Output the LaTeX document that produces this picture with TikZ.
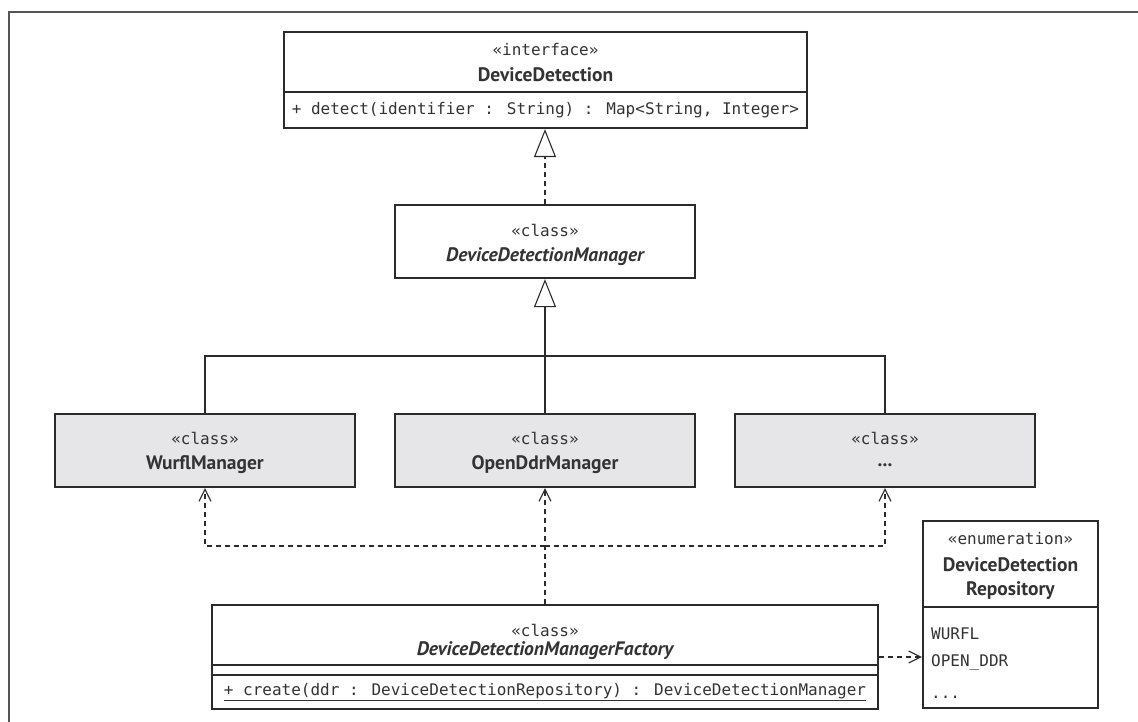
\documentclass[tikz,border=0pt]{standalone}
\usepackage{fontspec}
\setmainfont{PT Sans}
\newfontfamily\monof{DejaVu Sans Mono}
\usetikzlibrary{arrows.meta}
\definecolor{ink}{HTML}{2B2B2B}
\definecolor{txt}{HTML}{333333}
\definecolor{shade}{HTML}{E6E6E8}
\definecolor{framec}{HTML}{555555}
\begin{document}
\begin{tikzpicture}[x=1pt,y=-1pt,
  box/.style={draw=ink, line width=2.2pt, inner sep=0pt, fill=white},
  shaded/.style={box, fill=shade},
  divider/.style={draw=ink, line width=1.8pt},
  stereo/.style={inner sep=0pt, text=txt, font=\monof\fontsize{16}{18}\selectfont},
  cname/.style={inner sep=0pt, text=txt, font=\bfseries\fontsize{19.5}{22}\selectfont},
  iname/.style={inner sep=0pt, text=txt, font=\bfseries\itshape\fontsize{19.5}{22}\selectfont},
  conn/.style={draw=ink, line width=1.1pt},
  realize/.style={conn, dash pattern=on 5pt off 4pt, -{Triangle[open,length=28pt,width=22pt,line width=1.1pt]}},
  general/.style={conn, -{Triangle[open,length=28pt,width=22pt,line width=1.1pt]}},
  dep/.style={conn, dash pattern=on 5pt off 4pt, -{Straight Barb[length=12pt,width=12pt,line width=1.1pt]}}
]
\useasboundingbox (0,0) rectangle (1138,722);
% frame
\draw[framec, line width=2pt] (8.5,722) -- (8.5,12) -- (1138,12);

% DeviceDetection
\node[box, minimum width=523pt, minimum height=96pt] (dd) at (545.5,80) {};
\draw[divider] (dd.west |- 0,92) -- (dd.east |- 0,92);
\node[stereo] (ddst) at (545.5,50) {«interface»};
\node[cname] (ddnm) at (545.5,75) {DeviceDetection};
\node[stereo] (ddop) at (545.5,110) {+ detect(identifier : String) : Map<String, Integer>};

% DeviceDetectionManager
\node[box, minimum width=300pt, minimum height=73pt] (ddm) at (545,241.5) {};
\node[stereo] (ddmst) at (545,230) {«class»};
\node[iname] (ddmnm) at (545,257) {DeviceDetectionManager};

% subclasses
\node[shaded, minimum width=300pt, minimum height=73pt] (wm) at (205,450.5) {};
\node[stereo] (wmst) at (205,438) {«class»};
\node[cname] (wmnm) at (205,465) {WurflManager};

\node[shaded, minimum width=300pt, minimum height=73pt] (om) at (545,450.5) {};
\node[stereo] (omst) at (545,438) {«class»};
\node[cname] (omnm) at (545,465) {OpenDdrManager};

\node[shaded, minimum width=300pt, minimum height=73pt] (xm) at (885,450.5) {};
\node[stereo] (xmst) at (885,438) {«class»};
\node[cname] (xmnm) at (885,465) {...};

% factory
\node[box, minimum width=666pt, minimum height=104pt] (fac) at (545,657) {};
\draw[divider] (fac.west |- 0,665) -- (fac.east |- 0,665);
\draw[divider] (fac.west |- 0,675) -- (fac.east |- 0,675);
\node[stereo] (facst) at (545,630) {«class»};
\node[iname] (facnm) at (545,651) {DeviceDetectionManagerFactory};
\node[stereo] (facop) at (545,692) {\underline{+ create(ddr : DeviceDetectionRepository) : DeviceDetectionManager}};

% enumeration
\node[box, minimum width=175pt, minimum height=187pt] (en) at (1010.5,614.5) {};
\draw[divider] (en.west |- 0,607) -- (en.east |- 0,607);
\node[stereo] (enst) at (1010.5,539) {«enumeration»};
\node[cname] (ennm1) at (1010.5,565) {DeviceDetection};
\node[cname] (ennm2) at (1010.5,591) {Repository};
\node[stereo, anchor=base west] (en1) at (931,639) {WURFL};
\node[stereo, anchor=base west] (en2) at (931,666) {OPEN\_DDR};
\node[stereo, anchor=base west] (en3) at (931,698) {...};

% connectors
\draw[realize] (ddm.north) -- (ddm.north |- dd.south);
\coordinate (gj) at (545,356);
\draw[general] (om.north) -- (ddm.south);
\draw[conn] (wm.north) |- (gj) -| (xm.north);
\coordinate (dj) at (545,546);
\draw[dep] (fac.north) -- (om.south);
\draw[dep] (dj) -| (wm.south);
\draw[dep] (dj) -| (xm.south);
\draw[dep] (fac.east) -- (fac.east -| en.west);
\end{tikzpicture}
\end{document}
